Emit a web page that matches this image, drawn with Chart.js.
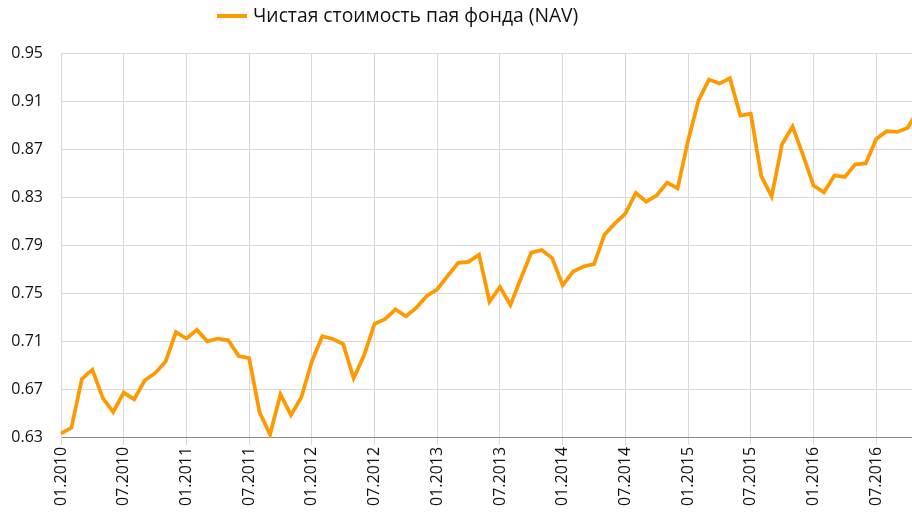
<!DOCTYPE html>
<html>
<head>
<meta charset="utf-8">
<script src="https://cdn.jsdelivr.net/npm/chart.js@4.4.1/dist/chart.umd.min.js"></script>
<style>
  html, body { margin: 0; padding: 0; background: #fff; overflow: hidden; }
  #wrap { position: relative; width: 918px; height: 515px; }
  #legend {
    position: absolute; top: 3px; left: 217px;
    font-family: "Open Sans", sans-serif; font-size: 19.3px; color: #111;
    white-space: nowrap; line-height: 24px;
  }
  #legend .swatch {
    display: inline-block; width: 30px; height: 4px; background: #ff9900;
    vertical-align: middle; margin-right: 6px; position: relative; top: -1px;
  }
</style>
</head>
<body>
<div id="wrap">
  <div id="legend"></div>
  <canvas id="myChart"></canvas>
</div>
<script>
// monthly labels, 01.2010 .. 11.2016
const months = [
  "01.2010", "02.2010", "03.2010", "04.2010", "05.2010", "06.2010", "07.2010", "08.2010", "09.2010", "10.2010", "11.2010", "12.2010",
  "01.2011", "02.2011", "03.2011", "04.2011", "05.2011", "06.2011", "07.2011", "08.2011", "09.2011", "10.2011", "11.2011", "12.2011",
  "01.2012", "02.2012", "03.2012", "04.2012", "05.2012", "06.2012", "07.2012", "08.2012", "09.2012", "10.2012", "11.2012", "12.2012",
  "01.2013", "02.2013", "03.2013", "04.2013", "05.2013", "06.2013", "07.2013", "08.2013", "09.2013", "10.2013", "11.2013", "12.2013",
  "01.2014", "02.2014", "03.2014", "04.2014", "05.2014", "06.2014", "07.2014", "08.2014", "09.2014", "10.2014", "11.2014", "12.2014",
  "01.2015", "02.2015", "03.2015", "04.2015", "05.2015", "06.2015", "07.2015", "08.2015", "09.2015", "10.2015", "11.2015", "12.2015",
  "01.2016", "02.2016", "03.2016", "04.2016", "05.2016", "06.2016", "07.2016", "08.2016", "09.2016", "10.2016", "11.2016"
];

const navLabel = "Чистая стоимость пая фонда (NAV)";

// NAV values
const navValues = [
  0.6336, 0.6386, 0.6790, 0.6867, 0.6630, 0.6515, 0.6677, 0.6620, 0.6777, 0.6838, 0.6933, 0.7179,
  0.7126, 0.7198, 0.7103, 0.7126, 0.7112, 0.6980, 0.6964, 0.6512, 0.6328, 0.6662, 0.6490, 0.6637,
  0.6936, 0.7145, 0.7123, 0.7081, 0.6796, 0.6986, 0.7248, 0.7287, 0.7369, 0.7310, 0.7382, 0.7480,
  0.7536, 0.7647, 0.7756, 0.7764, 0.7823, 0.7432, 0.7555, 0.7405, 0.7625, 0.7840, 0.7862, 0.7795,
  0.7570, 0.7683, 0.7725, 0.7745, 0.7990, 0.8083, 0.8164, 0.8336, 0.8264, 0.8317, 0.8423, 0.8375,
  0.8771, 0.9106, 0.9279, 0.9246, 0.9290, 0.8980, 0.8995, 0.8476, 0.8308, 0.8744, 0.8888, 0.8651,
  0.8398, 0.8342, 0.8482, 0.8470, 0.8574, 0.8582, 0.8785, 0.8850, 0.8844, 0.8877, 0.9020
];

// y axis ticks
const yMin = 0.63;
const yMax = 0.95;
const yStep = 0.04;

const labelEvery = 6;

const orange = "#ff9900";
const gridColor = "#d9d9d9";
const textColor = "#111";
const font = { family: "'Open Sans', sans-serif", size: 16 };

document.getElementById("legend").innerHTML =
  '<span class="swatch"></span>' + navLabel;

const ctx = document.getElementById("myChart").getContext("2d");
new Chart(ctx, {
  type: "line",
  data: {
    labels: months,
    datasets: [
      {
        label: navLabel,
        data: navValues,
        borderColor: orange,
        backgroundColor: orange,
        borderWidth: 3.75,
        pointRadius: 0,
        tension: 0,
      },
    ],
  },
  options: {
    responsive: true,
    maintainAspectRatio: false,
    animation: false,
    layout: { padding: { top: 53, left: 9, right: 0, bottom: 7 } },
    plugins: {
      legend: { display: false },
      tooltip: { enabled: false },
    },
    scales: {
      x: {
        offset: false,
        // rotated labels should not push the plot in from the sides
        afterFit: (scale) => {
          scale.paddingLeft = 0;
          scale.paddingRight = 0;
        },
        grid: {
          color: (c) => (c.index % labelEvery === 0 ? gridColor : "rgba(0,0,0,0)"),
          tickLength: 7,
        },
        border: { color: "#8c8c8c", width: 1 },
        ticks: {
          autoSkip: false,
          minRotation: 90,
          maxRotation: 90,
          padding: 2,
          color: textColor,
          font: font,
          callback: function (value, index) {
            return index % labelEvery === 0 ? months[index] : "";
          },
        },
      },
      y: {
        min: yMin,
        max: yMax,
        afterFit: (scale) => {
          scale.width = 52;
          scale.paddingTop = 0;
          scale.paddingBottom = 0;
        },
        grid: { color: gridColor, drawTicks: false },
        border: { color: gridColor },
        ticks: {
          stepSize: yStep,
          padding: 18,
          color: textColor,
          font: font,
          callback: (v) => v.toFixed(2),
        },
      },
    },
  },
});
</script>
</body>
</html>
